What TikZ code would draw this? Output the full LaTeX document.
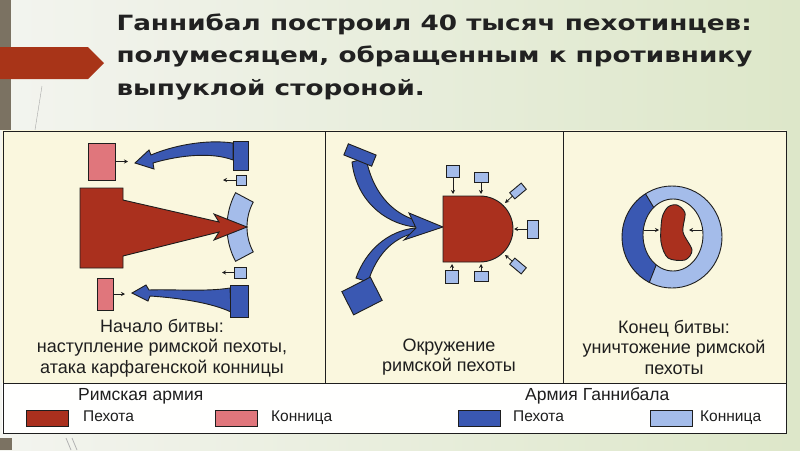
\documentclass[tikz,border=0pt]{standalone}
\usepackage{fontspec}
\setmainfont{Liberation Sans}
\newfontfamily\titlefont[FakeStretch=1.25]{DejaVu Sans}
\usepackage{xcolor}
\usepackage{tikz}
\usetikzlibrary{arrows.meta}

\definecolor{romeinf}{RGB}{170,48,30}
\definecolor{romecav}{RGB}{224,118,124}
\definecolor{hanninf}{RGB}{58,88,178}
\definecolor{hanncav}{RGB}{164,188,234}
\definecolor{paper}{RGB}{250,247,222}
\definecolor{slideL}{RGB}{243,244,239}
\definecolor{slideR}{RGB}{221,231,201}
\definecolor{barbrown}{RGB}{123,114,98}
\definecolor{bannerred}{RGB}{168,52,24}
\definecolor{ink}{RGB}{30,30,30}

\tikzstyle{unit}      = [rectangle, draw=ink, line width=0.9pt, inner sep=0pt]
\tikzstyle{rinf}      = [unit, fill=romeinf]
\tikzstyle{rcav}      = [unit, fill=romecav]
\tikzstyle{hinf}      = [unit, fill=hanninf]
\tikzstyle{hcav}      = [unit, fill=hanncav]
\tikzstyle{outline}   = [draw=ink, line width=0.9pt]
\tikzstyle{tick}      = [ink, line width=0.8pt, -{Stealth[length=4pt,width=4pt]}]
\tikzstyle{caption}   = [align=center, text=ink, font=\fontsize{18}{20.5}\selectfont]
\tikzstyle{legtitle}  = [anchor=base west, inner sep=0pt, text=ink, font=\fontsize{17.5}{17.5}\selectfont]
\tikzstyle{legtext}   = [anchor=base west, inner sep=0pt, text=ink, font=\fontsize{15.5}{15.5}\selectfont]
\tikzstyle{legswatch} = [minimum width=42pt, minimum height=16pt]

\begin{document}
\begin{tikzpicture}[x=1pt,y=-1pt]
    \useasboundingbox (0,0) rectangle (800,450);
    % slide background
    \shade [left color=slideL, right color=slideR] (0,0) rectangle (800,450);
    \fill [barbrown] (0,0) rectangle (11,130);
    \fill [barbrown] (0,438) rectangle (12,450);
    \fill [bannerred] (0,47) -- (88,47) -- (104,63) -- (88,79) -- (0,79) -- cycle;
    \draw [gray!70, line width=0.4pt] (42,86) -- (35,130);
    \draw [gray!60, line width=0.8pt] (66,438) -- (71,450) (72,438) -- (77,450);

    \node (title) at (113,10) [anchor=north west, align=left, text=black!87,
        font=\titlefont\bfseries\fontsize{21}{32.5}\selectfont]
        {Ганнибал построил 40 тысяч пехотинцев:\\полумесяцем, обращенным к противнику\\выпуклой стороной.};

    % frame of the scheme
    \fill [paper] (2,130) rectangle (786,383);
    \fill [white!96!paper] (2,383) rectangle (786,433);
    \draw [ink, line width=1pt] (3,131) rectangle (786,433);
    \draw [ink, line width=0.8pt] (3,383) -- (786,383) (325,131) -- (325,383) (563,131) -- (563,383);

    % panel 1: start of the battle
    \filldraw [outline, fill=hanncav] plot[domain=180:208, samples=15] ({300+73*cos(\x)},{227+73*sin(\x)})
        -- plot[domain=208:180, samples=15] ({300+53*cos(\x)},{227+53*sin(\x)}) -- cycle;
    \filldraw [outline, fill=hanncav] plot[domain=152:180, samples=15] ({300+73*cos(\x)},{227+73*sin(\x)})
        -- plot[domain=180:152, samples=15] ({300+53*cos(\x)},{227+53*sin(\x)}) -- cycle;
    \filldraw [outline, fill=romeinf] (80,188) -- (123,188) -- (123,200) -- (219,222) -- (214,214) -- (247,227)
        -- (214,240) -- (219,232) -- (123,256) -- (123,268) -- (80,268) -- cycle;
    \filldraw [outline, fill=hanninf] (233,143) .. controls (205,139) and (172,146) .. (151,155) -- (149,150)
        -- (135,163) -- (154,169) -- (153,163) .. controls (180,155) and (212,152) .. (233,160) -- cycle;
    \filldraw [outline, fill=hanninf] (230,288) .. controls (205,292) and (172,289) .. (149,290) -- (146,285)
        -- (132,293) -- (148,301) -- (150,296) .. controls (180,298) and (212,303) .. (231,312) -- cycle;

    \node (romcavN) at (101.5,161.5) [rcav, minimum width=27pt, minimum height=37pt] {};
    \node (romcavS) at (105,294)     [rcav, minimum width=16pt, minimum height=32pt] {};
    \node (hannN)   at (240.5,155.5) [hinf, minimum width=15pt, minimum height=29pt] {};
    \node (hannS)   at (239,301)     [hinf, minimum width=18pt, minimum height=32pt] {};
    \node (hcavN)   at (241,180)     [hcav, minimum width=10pt, minimum height=10pt] {};
    \node (hcavS)   at (240,272.5)   [hcav, minimum width=12pt, minimum height=11pt] {};
    \coordinate (faceN)  at (128,161.5);
    \coordinate (faceS)  at (125,294);
    \coordinate (faceCN) at (223,180);
    \coordinate (faceCS) at (222,272.5);
    \draw [tick] (romcavN) -- (faceN);
    \draw [tick] (romcavS) -- (faceS);
    \draw [tick] (hcavN) -- (faceCN);
    \draw [tick] (hcavS) -- (faceCS);

    \node (cap1) at (162,348) [caption] {Начало битвы:\\наступление римской пехоты,\\атака карфагенской конницы};

    % panel 2: encirclement
    \filldraw [outline, fill=hanninf] (366,158) .. controls (372,190) and (390,212) .. (415,220)
        -- (415,227) .. controls (382,223) and (356,198) .. (352,162) -- cycle;
    \filldraw [outline, fill=hanninf] (368,282) .. controls (376,256) and (392,238) .. (415,233)
        -- (415,228) .. controls (388,231) and (366,250) .. (356,278) -- cycle;
    \filldraw [outline, fill=hanninf] (416,228) -- (409,213) -- (443,227) -- (404,240) -- cycle;
    \filldraw [outline, fill=romeinf] (443,196) -- (480,196) .. controls (498.2,196) and (513,210.8) .. (513,229)
        .. controls (513,247.2) and (498.2,262) .. (480,262) -- (443,262) -- cycle;

    \node (encN) at (360,155) [hinf, minimum width=30pt, minimum height=12pt, rotate=-22] {};
    \node (encS) at (362,296) [hinf, minimum width=32pt, minimum height=26pt, rotate=27] {};
    \node (cav1) at (453,171) [hcav, minimum width=13pt, minimum height=12pt] {};
    \node (cav2) at (481,177) [hcav, minimum width=14pt, minimum height=10pt] {};
    \node (cav3) at (518,191) [hcav, minimum width=15pt, minimum height=8pt, rotate=40] {};
    \node (cav4) at (533,229) [hcav, minimum width=11pt, minimum height=18pt] {};
    \node (cav5) at (518,266) [hcav, minimum width=15pt, minimum height=8pt, rotate=-40] {};
    \node (cav6) at (452,277) [hcav, minimum width=13pt, minimum height=13pt] {};
    \node (cav7) at (481,276) [hcav, minimum width=14pt, minimum height=10pt] {};
    \coordinate (hit1) at (453,194);
    \coordinate (hit2) at (481,194);
    \coordinate (hit3) at (505,203);
    \coordinate (hit4) at (514,229);
    \coordinate (hit5) at (505,255);
    \coordinate (hit6) at (452,264);
    \coordinate (hit7) at (481,264);
    \draw [tick] (cav1) -- (hit1);
    \draw [tick] (cav2) -- (hit2);
    \draw [tick] (cav3) -- (hit3);
    \draw [tick] (cav4) -- (hit4);
    \draw [tick] (cav5) -- (hit5);
    \draw [tick] (cav6) -- (hit6);
    \draw [tick] (cav7) -- (hit7);

    \node (cap2) at (449,357) [caption] {Окружение\\римской пехоты};

    % panel 3: end of the battle
    \fill [hanncav] (672,237) ellipse [x radius=50, y radius=51];
    \fill [hanninf] plot[domain=122:243, samples=40] ({672+50*cos(\x)},{237-51*sin(\x)})
        -- plot[domain=236:130, samples=40] ({673+30*cos(\x)},{235-36*sin(\x)}) -- cycle;
    \fill [paper] (673,235) ellipse [x radius=30, y radius=36];
    \draw [outline] (672,237) ellipse [x radius=50, y radius=51];
    \draw [outline] (673,235) ellipse [x radius=30, y radius=36];
    \coordinate (ringT)  at ({672+50*cos(122)},{237-51*sin(122)});
    \coordinate (holeT)  at ({673+30*cos(130)},{235-36*sin(130)});
    \coordinate (ringB)  at ({672+50*cos(243)},{237-51*sin(243)});
    \coordinate (holeB)  at ({673+30*cos(236)},{235-36*sin(236)});
    \draw [outline] (ringT) -- (holeT);
    \draw [outline] (ringB) -- (holeB);
    \filldraw [outline, fill=romeinf] plot[smooth cycle] coordinates {(677,205) (685,213) (683,232) (692,250)
        (685,260) (668,258) (661,242) (662,218) (668,207)};
    \coordinate (holeL) at (644,230);
    \coordinate (beanL) at (659,230);
    \coordinate (holeR) at (702,230);
    \coordinate (beanR) at (689,230);
    \draw [tick] (holeL) -- (beanL);
    \draw [tick] (holeR) -- (beanR);

    \node (cap3) at (674,347) [caption] {Конец битвы:\\уничтожение римской\\пехоты};

    % legend
    \node (legRome) at (78,400)  [legtitle] {Римская армия};
    \node (legHann) at (525,400) [legtitle] {Армия Ганнибала};
    \node (swRinf) at (47.5,418) [rinf, legswatch] {};
    \node (swRcav) at (236,418)  [rcav, legswatch] {};
    \node (swHinf) at (479,418)  [hinf, legswatch] {};
    \node (swHcav) at (671,418)  [hcav, legswatch] {};
    \node (txRinf) at (83,421)  [legtext] {Пехота};
    \node (txRcav) at (271,421) [legtext] {Конница};
    \node (txHinf) at (513,421) [legtext] {Пехота};
    \node (txHcav) at (700,421) [legtext] {Конница};
\end{tikzpicture}
\end{document}
